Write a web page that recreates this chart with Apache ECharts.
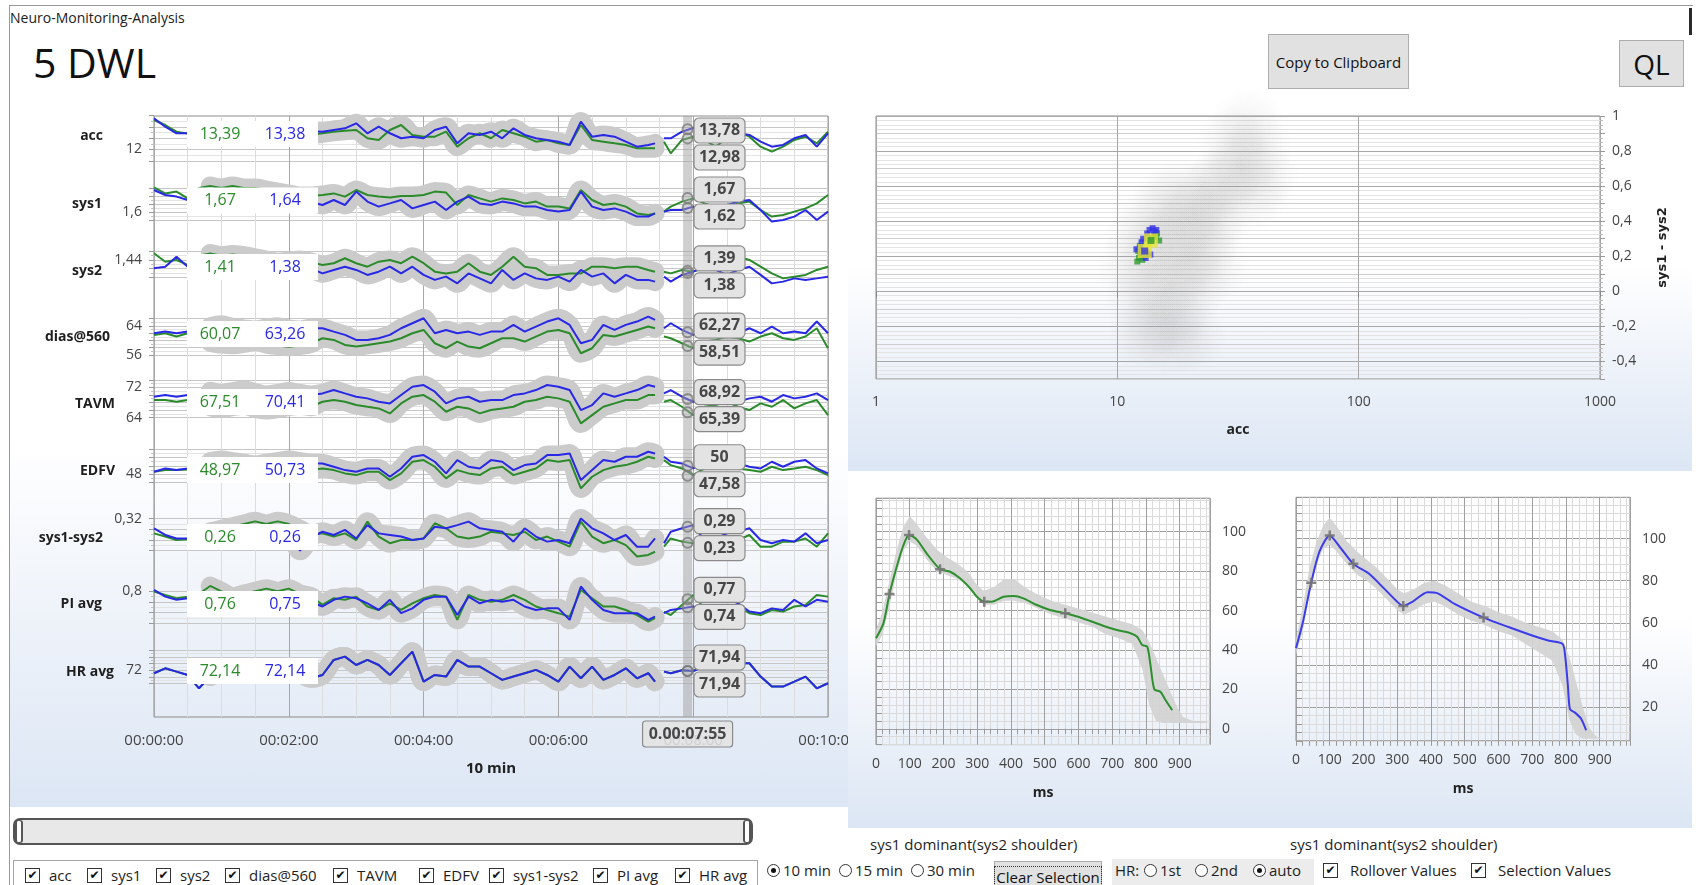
<!DOCTYPE html>
<html lang="de">
<head>
<meta charset="utf-8">
<title>Neuro-Monitoring-Analysis</title>
<script src="https://cdn.jsdelivr.net/npm/echarts@6.0.0/dist/echarts.min.js"></script>
<style>
  html, body { margin:0; padding:0; }
  body { width:1698px; height:885px; position:relative; overflow:hidden; background:#fff;
         font-family:"Open Sans","Noto Sans",sans-serif; color:#1e1e1e; }
  .abs { position:absolute; }
  .btn { position:absolute; background:#e1e1e1; border:1px solid #adadad; box-sizing:border-box;
         display:flex; align-items:center; justify-content:center; color:#111; white-space:nowrap; }
  .cb { position:absolute; width:15px; height:15px; border:1px solid #333; box-sizing:border-box; background:#fff;
        font:bold 12px "DejaVu Sans",sans-serif; line-height:13px; text-align:center; color:#111; }
  .rb { position:absolute; width:13px; height:13px; border:1px solid #333; border-radius:50%; box-sizing:border-box; background:#fff; }
  .rb.on::after { content:''; position:absolute; left:3px; top:3px; width:5px; height:5px; border-radius:50%; background:#111; }
  .lbl { position:absolute; font-size:15px; line-height:20px; white-space:nowrap; color:#1e1e1e; }
</style>
</head>
<body>
<!-- window frame and panels -->
<div class="abs" style="left:9px;top:5px;width:1683px;height:900px;border-left:1px solid #9a9a9a;border-top:1px solid #9a9a9a;"></div>
<div class="abs" style="left:1689px;top:8px;width:3px;height:27px;background:#2a2a2a;"></div>
<div class="abs" style="left:10px;top:103px;width:838px;height:704px;background:linear-gradient(to bottom,#fff 0%,#fff 48%,#dce6f4 100%);"></div>
<div class="abs" style="left:848px;top:103px;width:844px;height:368px;background:linear-gradient(to bottom,#fff 0%,#fff 44%,#dce6f4 100%);"></div>
<div class="abs" style="left:848px;top:473px;width:844px;height:355px;background:linear-gradient(to bottom,#fff 0%,#fff 40%,#dce6f4 100%);"></div>

<div class="abs" style="left:10px;top:8px;font-size:14px;line-height:20px;color:#222;">Neuro-Monitoring-Analysis</div>
<div class="abs" style="left:33px;top:42px;font-size:41px;line-height:41px;color:#111;">5 DWL</div>
<div class="btn" style="left:1268px;top:34px;width:141px;height:55px;font-size:15px;">Copy to Clipboard</div>
<div class="btn" style="left:1619px;top:40px;width:65px;height:47px;font-size:28px;">QL</div>

<div id="trend" class="abs" style="left:0;top:0;width:848px;height:812px;"></div>
<div id="side" class="abs" style="left:848px;top:0;width:850px;height:830px;"></div>

<!-- range slider -->
<div class="abs" style="left:13px;top:818px;width:740px;height:27px;box-sizing:border-box;border:2px solid #555;border-radius:7px;background:#e8e8e8;"></div>
<div class="abs" style="left:15px;top:820px;width:8px;height:23px;box-sizing:border-box;border:1px solid #555;border-radius:3px;background:#fff;border-left-width:2px;border-right-width:2px;"></div>
<div class="abs" style="left:743px;top:820px;width:8px;height:23px;box-sizing:border-box;border:1px solid #555;border-radius:3px;background:#fff;border-left-width:2px;border-right-width:2px;"></div>

<div class="abs" style="left:13px;top:860px;width:745px;height:40px;box-sizing:border-box;border:1px solid #a5a5a5;"></div>
<div class="btn" style="left:994px;top:861px;width:108px;height:34px;font-size:15px;align-items:flex-start;padding-top:4px;">
  <span style="border:1px dotted #333;padding:0 1px;line-height:20px;">Clear Selection</span></div>
<div class="abs" style="left:1112px;top:859px;width:202px;height:30px;background:#ececec;"></div>
<div class="lbl" style="left:870px;top:834px;">sys1 dominant(sys2 shoulder)</div>
<div class="lbl" style="left:1290px;top:834px;">sys1 dominant(sys2 shoulder)</div>
<div id="controls"></div>

<script>
// ---------- time series (trend) data, one sample every 10 s, gap at 450 s ----------
const TIMES = [0,10,20,30,40,50,60,70,80,90,100,110,120,130,140,150,160,170,180,190,200,210,220,230,240,250,260,270,280,290,300,310,320,330,340,350,360,370,380,390,400,410,420,430,440,446,450,454,460,470,480,490,500,510,520,530,540,550,560,570,580,590,600];
const SEL_START = 50, SEL_END = 446;
const CURSOR_T = 475;

const ROWS = ['acc','sys1','sys2','dias@560','TAVM','EDFV','sys1-sys2','PI avg','HR avg'];

const accGreen = [14.6,14.16,13.57,13.4,13.2,13.4,13.5,13.3,13.2,13.4,13.5,13.3,13.2,13.4,13.3,13.43,13.57,13.66,13.72,12.99,12.84,13.72,14.16,13.28,13.13,13.13,13.57,12.25,12.99,13.43,12.99,13.72,13.43,13.13,12.69,12.84,12.54,12.4,14.16,12.84,12.69,12.54,12.4,12.1,12.1,12.1,null,12.69,11.66,12.84,13.13,12.84,12.25,12.99,13.57,13.13,12.25,11.81,12.25,12.84,13.13,12.54,13.57];
const accBlue = [14.75,14.01,13.43,13.43,13.3,13.5,13.6,13.4,13.3,13.5,13.6,13.4,13.3,13.5,13.6,13.57,13.72,13.87,14.31,13.43,14.01,13.43,12.99,13.13,12.99,13.72,14.01,12.54,13.43,13.28,13.57,12.99,13.87,13.28,12.99,12.84,12.69,12.4,14.46,13.13,13.28,13.13,12.69,12.25,12.4,12.54,null,12.99,12.99,13.57,13.9,13.28,12.69,13.28,13.43,13.28,12.69,12.25,12.4,12.99,13.28,12.25,13.43];
const sys1Green = [1.723,1.693,1.702,1.668,1.72,1.73,1.72,1.73,1.72,1.72,1.71,1.70,1.69,1.68,1.68,1.685,1.693,1.677,1.71,1.685,1.677,1.673,1.68,1.68,1.685,1.702,1.697,1.635,1.685,1.668,1.652,1.668,1.66,1.643,1.652,1.627,1.627,1.618,1.71,1.66,1.635,1.643,1.627,1.593,1.585,1.593,null,1.602,1.627,1.652,1.668,1.643,1.627,1.627,1.643,1.652,1.61,1.577,1.585,1.602,1.618,1.643,1.685];
const sys1Blue = [1.71,1.685,1.677,1.66,1.66,1.67,1.68,1.67,1.66,1.67,1.68,1.66,1.65,1.66,1.65,1.635,1.66,1.635,1.702,1.652,1.627,1.643,1.66,1.618,1.635,1.652,1.61,1.652,1.677,1.643,1.635,1.652,1.643,1.627,1.627,1.61,1.602,1.61,1.702,1.627,1.61,1.618,1.602,1.577,1.577,1.593,null,1.602,1.61,1.61,1.627,1.61,1.61,1.635,1.652,1.66,1.61,1.552,1.56,1.577,1.61,1.56,1.602];
const sys2Green = [1.471,1.432,1.44,1.417,1.46,1.47,1.46,1.465,1.46,1.45,1.44,1.43,1.435,1.44,1.43,1.417,1.425,1.448,1.425,1.409,1.432,1.44,1.425,1.455,1.425,1.386,1.378,1.386,1.425,1.386,1.371,1.409,1.455,1.409,1.402,1.371,1.371,1.378,1.378,1.409,1.409,1.402,1.409,1.409,1.394,1.386,null,1.386,1.378,1.394,1.386,1.402,1.417,1.425,1.455,1.44,1.409,1.378,1.355,1.363,1.371,1.394,1.409];
const sys2Blue = [1.402,1.409,1.455,1.409,1.41,1.40,1.41,1.42,1.41,1.40,1.41,1.40,1.41,1.42,1.40,1.378,1.394,1.409,1.394,1.371,1.386,1.409,1.378,1.409,1.371,1.348,1.363,1.332,1.378,1.355,1.332,1.394,1.348,1.378,1.355,1.348,1.363,1.34,1.394,1.363,1.378,1.332,1.371,1.348,1.348,1.34,null,1.363,1.34,1.371,1.386,1.409,1.394,1.371,1.394,1.409,1.371,1.332,1.34,1.355,1.348,1.355,1.363];
const diasGreen = [61.54,61.99,61.08,61.99,60.2,59.5,59.0,58.8,59.2,59.7,59.0,58.6,58.3,58.6,59.2,60.62,60.16,58.78,58.33,58.78,59.24,59.7,60.62,61.99,62.91,59.24,57.87,59.7,58.33,57.87,59.24,60.62,60.62,59.7,61.08,62.45,62.91,61.99,56.49,57.87,61.54,61.08,61.99,62.91,63.83,63.37,null,61.08,60.62,59.24,57.87,59.7,60.16,61.08,60.62,59.7,61.08,61.99,60.62,60.16,61.08,63.37,57.87];
const diasBlue = [62.0,62.45,62.0,62.45,63.4,63.8,64.3,63.6,63.2,62.9,63.4,63.8,63.2,62.9,63.4,63.37,62.45,61.54,60.16,60.16,60.62,61.54,63.37,64.75,66.12,61.99,62.91,61.99,62.45,61.54,62.45,62.45,64.29,62.45,63.83,65.21,66.12,64.29,59.24,60.16,64.29,62.91,64.29,65.21,66.58,65.66,null,63.37,64.75,62.91,61.54,62.91,61.08,62.45,61.99,63.37,61.99,63.83,61.99,62.45,61.99,65.21,61.99];
const tavmGreen = [68.65,68.65,68.21,68.65,67.3,66.9,66.4,66.9,67.3,66.4,66.0,66.4,66.9,67.3,66.9,68.21,68.65,68.21,67.33,66.88,66.44,65.11,67.77,69.54,69.98,68.21,65.56,66.88,66.44,65.11,66.0,66.44,66.88,68.21,68.65,69.54,69.1,68.21,62.46,64.67,66.88,67.77,68.65,68.65,69.98,69.98,null,68.21,68.65,66.88,64.67,66.88,67.33,68.21,66.88,66.0,67.77,66.88,68.65,66.44,67.77,68.65,64.67];
const tavmBlue = [69.54,69.98,69.54,69.98,71.3,71.0,70.4,70.9,71.3,70.6,70.0,70.4,70.9,70.4,70.0,70.42,71.31,70.42,69.54,69.1,68.21,67.77,69.98,72.19,72.64,70.87,67.77,69.1,69.54,68.21,68.65,68.65,69.98,70.42,71.31,72.64,72.19,71.31,66.0,67.33,70.42,69.54,70.42,71.31,72.64,72.19,null,70.42,71.31,69.54,68.21,69.54,69.1,69.98,68.21,69.1,69.54,68.21,69.98,69.1,69.54,70.42,68.65];
const edfvGreen = [48.55,48.95,48.95,49.11,49.8,49.4,49.0,49.4,49.8,49.4,49.0,48.6,49.0,49.4,49.0,49.35,48.95,48.15,47.74,48.55,48.55,46.53,48.15,50.97,51.37,49.76,46.94,48.95,48.15,47.74,49.35,49.76,47.74,48.55,49.35,51.37,50.97,51.37,44.52,47.34,48.95,49.76,50.16,50.97,52.18,51.77,null,51.37,50.16,49.35,47.74,49.35,49.76,50.16,49.35,48.95,48.55,49.76,48.95,49.35,49.76,48.95,47.74];
const edfvBlue = [48.55,49.35,48.95,49.35,50.6,51.0,51.4,51.0,50.6,50.2,50.6,51.0,51.4,51.0,50.6,50.56,49.76,48.95,48.55,49.35,49.35,47.34,49.35,52.18,52.58,50.97,48.15,51.37,49.76,49.35,51.37,50.97,48.95,50.16,50.56,52.58,52.58,52.98,46.53,48.95,51.37,50.97,52.18,52.18,53.39,52.98,null,52.18,50.97,50.56,49.35,50.56,50.16,51.77,50.56,49.76,49.35,50.97,49.76,50.97,51.37,49.35,48.15];
const s12Green = [0.265,0.253,0.24,0.243,0.26,0.27,0.28,0.29,0.3,0.31,0.3,0.31,0.3,0.28,0.26,0.265,0.253,0.265,0.24,0.309,0.253,0.228,0.24,0.24,0.246,0.303,0.284,0.253,0.246,0.253,0.271,0.265,0.259,0.271,0.24,0.253,0.234,0.215,0.309,0.253,0.228,0.24,0.221,0.178,0.184,0.196,null,0.215,0.246,0.234,0.228,0.228,0.234,0.246,0.24,0.259,0.215,0.215,0.234,0.234,0.246,0.215,0.265];
const s12Blue = [0.284,0.259,0.246,0.246,0.26,0.27,0.26,0.25,0.26,0.27,0.28,0.27,0.26,0.2,0.25,0.271,0.259,0.278,0.246,0.296,0.265,0.259,0.253,0.24,0.246,0.29,0.284,0.296,0.309,0.284,0.278,0.271,0.234,0.284,0.253,0.234,0.24,0.228,0.321,0.284,0.265,0.24,0.259,0.215,0.215,0.246,null,0.228,0.271,0.284,0.296,0.24,0.246,0.265,0.271,0.284,0.24,0.228,0.24,0.234,0.265,0.228,0.24];
const piGreen = [0.799,0.786,0.774,0.78,0.79,0.82,0.8,0.78,0.79,0.8,0.81,0.8,0.81,0.79,0.78,0.749,0.774,0.768,0.78,0.743,0.73,0.755,0.73,0.755,0.774,0.786,0.78,0.693,0.786,0.768,0.761,0.768,0.786,0.768,0.743,0.73,0.718,0.705,0.805,0.774,0.743,0.743,0.73,0.711,0.686,0.699,null,0.724,0.711,0.749,0.786,0.736,0.73,0.724,0.743,0.718,0.711,0.73,0.724,0.743,0.749,0.786,0.78];
const piBlue = [0.805,0.78,0.768,0.774,0.77,0.79,0.78,0.76,0.77,0.78,0.77,0.79,0.78,0.77,0.76,0.743,0.768,0.78,0.774,0.755,0.73,0.768,0.718,0.736,0.768,0.78,0.78,0.711,0.78,0.755,0.768,0.761,0.768,0.743,0.73,0.736,0.736,0.693,0.818,0.768,0.73,0.718,0.718,0.718,0.693,0.705,null,0.718,0.73,0.736,0.743,0.73,0.743,0.73,0.755,0.724,0.718,0.736,0.73,0.768,0.743,0.768,0.761];
const hrGreen = [71.77,72.14,71.89,71.64,70.64,71.52,71.89,72.02,71.77,72.14,72.02,71.89,72.27,71.77,71.39,71.64,72.77,73.02,72.39,72.77,72.39,71.64,72.52,73.39,71.14,71.64,71.52,72.77,72.27,72.27,71.77,71.27,71.52,71.77,72.02,71.64,71.14,72.27,71.39,72.27,71.27,71.64,72.14,71.39,71.77,71.14,null,71.89,71.77,72.0,71.94,72.27,72.52,73.02,72.52,72.52,71.52,70.77,70.77,71.14,71.52,70.64,71.02];
const hrBlue = [71.77,72.14,71.89,71.64,70.64,71.52,71.89,72.02,71.77,72.14,72.02,71.89,72.27,71.77,71.39,71.64,72.77,73.02,72.39,72.77,72.39,71.64,72.52,73.39,71.14,71.64,71.52,72.77,72.27,72.27,71.77,71.27,71.52,71.77,72.02,71.64,71.14,72.27,71.39,72.27,71.27,71.64,72.14,71.39,71.77,71.14,null,71.89,71.77,72.0,71.94,72.27,72.52,73.02,72.52,72.52,71.52,70.77,70.77,71.14,71.52,70.64,71.02];

const GREEN = [accGreen, sys1Green, sys2Green, diasGreen, tavmGreen, edfvGreen, s12Green, piGreen, hrGreen];
const BLUE  = [accBlue, sys1Blue, sys2Blue, diasBlue, tavmBlue, edfvBlue, s12Blue, piBlue, hrBlue];

// per-row axis ranges and labelled ticks
const ROW_MIN  = [11, 1.56, 1.36, 56, 64, 46, 0.2, 0.68, 71];
const ROW_MAX  = [15, 1.72, 1.48, 66, 74, 54, 0.32, 0.8, 73.5];
const ROW_STEP = [1, 0.04, 0.04, 2, 2, 2, 0.04, 0.04, 0.5];
const ROW_TICKS = [[12],[1.6],[1.44],[64,56],[72,64],[48],[0.32],[0.8],[72]];

// selection means shown in the white boxes
const BOX_GREEN = [13.39, 1.67, 1.41, 60.07, 67.51, 48.97, 0.26, 0.76, 72.14];
const BOX_BLUE  = [13.38, 1.64, 1.38, 63.26, 70.41, 50.73, 0.26, 0.75, 72.14];
// rollover values at the cursor
const CALL_HIGH = [13.78, 1.67, 1.39, 62.27, 68.92, 50, 0.29, 0.77, 71.94];
const CALL_LOW  = [12.98, 1.62, 1.38, 58.51, 65.39, 47.58, 0.23, 0.74, 71.94];

// ---------- scatter: sys1-sys2 over acc ----------
const CLOUD_ACC = [11.5,12.5,12.5,13.5,14,14,15,15.5,16,16.5,17,17.5,18,18.5,19,19.5,20,21,21,22,23,24,25,26,27,17,13,28,30,33,35,38,40,36];
const CLOUD_S12 = [0.15,0.3,-0.05,0.1,0.4,-0.2,0.25,0.0,0.5,-0.15,0.3,0.1,0.55,-0.1,0.35,0.15,-0.25,0.45,0.05,0.25,0.55,0.35,0.15,0.45,0.6,-0.28,-0.25,0.65,0.85,0.72,0.95,0.8,0.65,0.55];
const SEL_GREEN_ACC = [12.1,12.3,12.5,12.2,12.7,12.9,13.9,14.2,14.4,14.6,13.2,12.4,14.9];
const SEL_GREEN_S12 = [0.17,0.19,0.21,0.23,0.18,0.2,0.3,0.32,0.31,0.33,0.22,0.26,0.29];
const SEL_BLUE_ACC = [12.4,12.6,12.8,13.3,13.6,14.0,14.3,12.5,13.1,13.7,12.0,14.5];
const SEL_BLUE_S12 = [0.25,0.28,0.3,0.33,0.35,0.36,0.34,0.22,0.19,0.21,0.24,0.35];

// ---------- averaged pulse waveforms ----------
const G_WAVE_MS  = [0,22,40,61,81,98,121,150,190,220,249,279,299,321,343,378,408,437,477,516,561,596,635,675,714,754,774,789,804,813,825,843,858,878];
const G_WAVE_VAL = [46,53.5,68.4,82,93,98.3,96,89,81,79.7,76.4,71.3,67,64.5,64.5,67,67.4,66.2,62.8,60.3,58.6,57,54.7,52.2,50.1,48.5,46.7,42.5,41.7,33,20,18.8,14.6,9.5];
const G_MARK_MS  = [40,98,190,321,561];
const G_MARK_VAL = [68.4,98.3,81,64.5,58.6];
const B_WAVE_MS  = [0,20,45,70,100,130,170,215,263,300,318,345,390,420,470,556,630,700,750,790,798,806,812,826,845,860];
const B_WAVE_VAL = [48,60,79,94,101.5,96,88,83.5,76,70,68,70,74.5,74,69,62.5,58,54,51.5,50,44,30,19,17.5,14.5,9];
const B_MARK_MS  = [45,100,170,318,556];
const B_MARK_VAL = [79,101.5,88,68,62.5];
// envelope of all single beats
const BAND_MS  = [0,20,40,60,80,100,120,150,180,210,240,270,300,320,350,380,410,440,480,520,560,600,640,680,720,760,790,810,830,850,870,890,910,940,980];
const G_BAND_HI = [50,60,75,90,102,108,104,97,91,87,84,80,73,70,72,76,76,72,68,65,63,61,59,57,55,53,50,44,36,28,20,12,6,4,4];
const G_BAND_LO = [42,48,62,78,90,95,93,86,80,78,76,73,66,63,63,65,65,64,61,58,56,54,52,48,46,43,30,12,4,3,3,3,3,3,3];
const B_BAND_HI = [52,68,86,98,106,110,106,99,94,90,86,81,76,74,76,79,80,78,74,70,68,65,63,60,58,56,52,44,32,20,10,6,5,5,5];
const B_BAND_LO = [45,56,74,87,95,97,94,88,83,80,76,71,66,64,66,69,70,68,64,61,59,56,54,50,46,42,30,14,7,5,5,5,5,5,5];

// ---------- helpers ----------
const FONT = '"Open Sans","Noto Sans",sans-serif';
const COL_G = '#2b8b2b', COL_B = '#2828e6';
const near = (a, b) => Math.abs(a - b) < 1e-6;
const fmtDec = v => String(+(+v).toFixed(6)).replace('.', ',');
const fmt2 = v => v.toFixed(2).replace('.', ',');
const pad = n => String(n).padStart(2, '0');
const hms = s => pad(Math.floor(s / 3600)) + ':' + pad(Math.floor(s % 3600 / 60)) + ':' + pad(Math.round(s % 60));
const asLine = arr => TIMES.map((t, k) => [t, arr[k]]);
const asHalo = arr => TIMES.map((t, k) => [t, (t >= SEL_START && t <= SEL_END) ? arr[k] : null]);
const zip = (a, b) => a.map((v, k) => [v, b[k]]);

// ---------- trend chart ----------
const ROW_TOP = [115.5, 188, 251.3, 318.7, 379.9, 449.2, 518.7, 591.3, 650.2];
const ROW_H   = [45.3, 32, 26, 36.3, 37.7, 33.1, 32, 32, 33.3];
const NAME_X  = [103, 102, 102, 110, 115, 115, 103, 102, 114];
const NAME_Y  = [136, 204, 271, 337, 404, 471, 538, 604, 672];
const BOX_Y   = [134, 200.5, 267, 334, 402, 470, 537, 604, 671];

const trend = echarts.init(document.getElementById('trend'), null, {renderer: 'canvas'});
const tGrid = [{left: 154, top: 116, width: 674, height: 601, show: true, borderColor: '#8c8c8c', borderWidth: 1,
  containLabel: false, outerBoundsMode: 'none'}];
const tX = [{gridIndex: 0, type: 'value', min: 0, max: 600, interval: 30,
  axisLine: {show: false}, axisTick: {show: false},
  axisLabel: {margin: 16, fontSize: 15, color: '#444', fontFamily: FONT, formatter: v => (v % 120 === 0 ? hms(v) : '')},
  splitLine: {show: true, lineStyle: {color: ['#a8a8a8', '#dcdcdc', '#dcdcdc', '#dcdcdc']}},
  name: '10 min', nameLocation: 'middle', nameGap: 44,
  nameTextStyle: {fontWeight: 'bold', fontSize: 15, color: '#222', fontFamily: FONT}}];
const tY = [{gridIndex: 0, type: 'value', min: 0, max: 1, show: false}];
const tSeries = [{type: 'line', xAxisIndex: 0, yAxisIndex: 0, data: [[CURSOR_T, 0], [CURSOR_T, 1]], symbol: 'none', silent: true, z: 6,
  lineStyle: {width: 9, color: 'rgba(160,160,160,0.5)'}}];

ROWS.forEach((name, i) => {
  const gi = i + 1;
  tGrid.push({left: 154, width: 674, top: ROW_TOP[i], height: ROW_H[i], containLabel: false, outerBoundsMode: 'none'});
  tX.push({gridIndex: gi, type: 'value', min: 0, max: 600, show: false});
  tY.push({gridIndex: gi, type: 'value', min: ROW_MIN[i], max: ROW_MAX[i], interval: ROW_STEP[i],
    axisLine: {show: false},
    axisTick: {show: true, length: 5, lineStyle: {color: '#9a9a9a'}},
    minorTick: {show: true, splitNumber: 2, length: 3, lineStyle: {color: '#c0c0c0'}},
    axisLabel: {margin: 12, fontSize: 14, color: '#454545', fontFamily: FONT,
      formatter: v => (ROW_TICKS[i].some(t => near(t, v)) ? fmtDec(v) : '')},
    splitLine: {show: true, lineStyle: {color: '#c6c6c6'}},
    minorSplitLine: {show: true, lineStyle: {color: '#e4e4e4'}}});
  const base = {type: 'line', xAxisIndex: gi, yAxisIndex: gi, symbol: 'none', silent: true, clip: false, connectNulls: false};
  const halo = {width: 19, color: '#cbcbcb', cap: 'round', join: 'round'};
  tSeries.push(Object.assign({}, base, {z: 1, smooth: 0.3, data: asHalo(GREEN[i]), lineStyle: halo}));
  tSeries.push(Object.assign({}, base, {z: 1, smooth: 0.3, data: asHalo(BLUE[i]), lineStyle: halo}));
  tSeries.push(Object.assign({}, base, {z: 3, data: asLine(GREEN[i]), lineStyle: {width: 2, color: COL_G}}));
  tSeries.push(Object.assign({}, base, {z: 4, data: asLine(BLUE[i]), lineStyle: {width: 2, color: COL_B}}));
  tSeries.push({type: 'scatter', xAxisIndex: gi, yAxisIndex: gi, z: 7, silent: true, symbol: 'circle', symbolSize: 10,
    data: [[CURSOR_T, CALL_HIGH[i]], [CURSOR_T, CALL_LOW[i]]],
    itemStyle: {color: 'rgba(0,0,0,0)', borderColor: '#7c7c7c', borderWidth: 2}});
});

trend.setOption({animation: false, textStyle: {fontFamily: FONT}, grid: tGrid, xAxis: tX, yAxis: tY, series: tSeries});

// overlays: row names, selection-mean boxes, rollover callouts, cursor time
const gfx = [];
ROWS.forEach((name, i) => {
  gfx.push({type: 'text', x: NAME_X[i], y: NAME_Y[i], z: 60, silent: true,
    style: {text: name, fill: '#1e1e1e', font: 'bold 14px ' + FONT, textAlign: 'right', textVerticalAlign: 'middle'}});
  const cy = BOX_Y[i];
  gfx.push({type: 'rect', z: 60, silent: true, shape: {x: 187, y: cy - 13, width: 131, height: 26}, style: {fill: '#ffffff'}});
  gfx.push({type: 'text', x: 220, y: cy, z: 61, silent: true,
    style: {text: fmt2(BOX_GREEN[i]), fill: COL_G, font: '16px ' + FONT, textAlign: 'center', textVerticalAlign: 'middle'}});
  gfx.push({type: 'text', x: 285, y: cy, z: 61, silent: true,
    style: {text: fmt2(BOX_BLUE[i]), fill: COL_B, font: '16px ' + FONT, textAlign: 'center', textVerticalAlign: 'middle'}});
  const yH = trend.convertToPixel({gridIndex: i + 1}, [CURSOR_T, CALL_HIGH[i]])[1];
  const yL = trend.convertToPixel({gridIndex: i + 1}, [CURSOR_T, CALL_LOW[i]])[1];
  let up = (yH + yL) / 2 - 13.5;
  if (up < 130.5) up = 130.5;
  [[up, CALL_HIGH[i]], [up + 27, CALL_LOW[i]]].forEach(([cyy, v]) => {
    gfx.push({type: 'rect', z: 62, silent: true, shape: {x: 694, y: cyy - 12.5, width: 51, height: 25, r: 5},
      style: {fill: '#e3e3e3', stroke: '#8a8a8a', lineWidth: 1.2}});
    gfx.push({type: 'text', x: 719.5, y: cyy, z: 63, silent: true,
      style: {text: fmtDec(v), fill: '#474747', font: 'bold 16px ' + FONT, textAlign: 'center', textVerticalAlign: 'middle'}});
  });
});
const cx = trend.convertToPixel({gridIndex: 0}, [CURSOR_T, 0])[0];
gfx.push({type: 'rect', z: 62, silent: true, shape: {x: cx - 45, y: 721, width: 90, height: 26, r: 3},
  style: {fill: 'rgba(226,226,226,0.88)', stroke: '#8a8a8a', lineWidth: 1.2}});
gfx.push({type: 'text', x: cx, y: 734, z: 63, silent: true,
  style: {text: '0.' + hms(CURSOR_T), fill: '#474747', font: 'bold 16px ' + FONT, textAlign: 'center', textVerticalAlign: 'middle'}});
trend.setOption({graphic: gfx});

// ---------- right side: scatter + waveforms ----------
const side = echarts.init(document.getElementById('side'), null, {renderer: 'canvas'});
const labelStyle = {fontSize: 14, color: '#444', fontFamily: FONT};
const waveX = gi => ({gridIndex: gi, type: 'value', min: 0, max: 990, interval: 20,
  axisLine: {show: false}, axisTick: {show: true, length: 5, lineStyle: {color: '#999'}},
  axisLabel: Object.assign({margin: 12, formatter: v => (v % 100 === 0 ? String(v) : '')}, labelStyle),
  splitLine: {show: true, lineStyle: {color: ['#a0a0a0', '#dadada', '#dadada', '#dadada', '#dadada']}},
  name: 'ms', nameLocation: 'middle', nameGap: 41,
  nameTextStyle: {fontWeight: 'bold', fontSize: 14, color: '#222', fontFamily: FONT}});
const waveY = (gi, min, max, colors) => ({gridIndex: gi, type: 'value', position: 'right', min: min, max: max, interval: 4,
  axisLine: {show: false}, axisTick: {show: true, length: 6, lineStyle: {color: '#999'}},
  axisLabel: Object.assign({margin: 12, formatter: v => (near(v % 20, 0) && Number.isInteger(v) ? String(v) : '')}, labelStyle),
  splitLine: {show: true, lineStyle: {color: colors}}});
const band = (gi, hi, lo) => ({type: 'custom', xAxisIndex: gi, yAxisIndex: gi, z: 1, silent: true, data: [[0, 0]],
  renderItem: (params, api) => {
    const pts = [];
    for (let k = 0; k < BAND_MS.length; k++) pts.push(api.coord([BAND_MS[k], hi[k]]));
    for (let k = BAND_MS.length - 1; k >= 0; k--) pts.push(api.coord([BAND_MS[k], lo[k]]));
    return {type: 'polygon', shape: {points: pts}, style: {fill: '#d2d2d2', opacity: 0.92}};
  }});
const PLUS = 'path://M3,0H5V3H8V5H5V8H3V5H0V3H3Z';
const sq = (data, size, color, z) => ({type: 'scatter', xAxisIndex: 0, yAxisIndex: 0, symbol: 'rect', symbolSize: size, z: z,
  silent: true, data: data, itemStyle: {color: color}});
const softBlob = {type: 'radial', x: 0.5, y: 0.5, r: 0.5,
  colorStops: [{offset: 0, color: 'rgba(150,150,150,0.13)'}, {offset: 0.55, color: 'rgba(150,150,150,0.07)'}, {offset: 1, color: 'rgba(150,150,150,0)'}]};
const gridBase = {show: true, borderColor: '#8a8a8a', containLabel: false, outerBoundsMode: 'none'};

side.setOption({
  animation: false,
  textStyle: {fontFamily: FONT},
  grid: [
    Object.assign({left: 28, top: 116, width: 724, height: 263}, gridBase),
    Object.assign({left: 28, top: 498.2, width: 334, height: 246.4}, gridBase),
    Object.assign({left: 448, top: 497.3, width: 334, height: 243.5}, gridBase)
  ],
  xAxis: [
    {gridIndex: 0, type: 'log', logBase: 10, min: 1, max: 1000,
      axisLine: {show: false}, axisTick: {show: true, length: 6, lineStyle: {color: '#888'}},
      axisLabel: Object.assign({margin: 16, formatter: v => String(Math.round(v))}, labelStyle),
      splitLine: {show: true, lineStyle: {color: '#a6a6a6'}},
      name: 'acc', nameLocation: 'middle', nameGap: 44,
      nameTextStyle: {fontWeight: 'bold', fontSize: 14, color: '#222', fontFamily: FONT}},
    waveX(1), waveX(2)
  ],
  yAxis: [
    {gridIndex: 0, type: 'value', position: 'right', min: -0.5, max: 1, interval: 0.1,
      axisLine: {show: false}, axisTick: {show: true, length: 5, lineStyle: {color: '#999'}},
      minorTick: {show: true, splitNumber: 4, length: 3, lineStyle: {color: '#bbb'}},
      axisLabel: Object.assign({margin: 12, formatter: v => {
        const r = Math.round(v * 10) / 10;
        return near(Math.round(r * 5), r * 5) ? fmtDec(r) : '';
      }}, labelStyle),
      splitLine: {show: true, lineStyle: {color: ['#cdcdcd', '#a8a8a8']}},
      minorSplitLine: {show: true, lineStyle: {color: '#e3e3e3'}},
      name: 'sys1 - sys2', nameLocation: 'middle', nameRotate: 90, nameGap: 56,
      nameTextStyle: {fontWeight: 'bold', fontSize: 13, color: '#222', fontFamily: '"DejaVu Sans",sans-serif'}},
    waveY(1, -8, 117, ['#dadada', '#dadada', '#a0a0a0', '#dadada', '#dadada']),
    waveY(2, 4, 119.6, ['#dadada', '#dadada', '#dadada', '#dadada', '#a0a0a0'])
  ],
  series: [
    {type: 'scatter', xAxisIndex: 0, yAxisIndex: 0, z: 1, silent: true, symbol: 'circle', symbolSize: 74,
      data: zip(CLOUD_ACC, CLOUD_S12), itemStyle: {color: softBlob}},
    sq(zip(SEL_GREEN_ACC, SEL_GREEN_S12), 6, '#2f9a2f', 3),
    sq(zip(SEL_BLUE_ACC, SEL_BLUE_S12), 6, '#3434e6', 4),
    sq([[CALL_HIGH[0], CALL_HIGH[6]], [CALL_LOW[0], CALL_LOW[6]]], 14, '#e6e634', 5),
    sq([[CALL_HIGH[0], CALL_HIGH[6]]], 7, '#2f9a2f', 6),
    sq([[CALL_LOW[0], CALL_LOW[6]]], 7, '#3434e6', 6),

    band(1, G_BAND_HI, G_BAND_LO),
    {type: 'line', xAxisIndex: 1, yAxisIndex: 1, z: 3, silent: true, symbol: 'none', smooth: 0.25,
      data: zip(G_WAVE_MS, G_WAVE_VAL), lineStyle: {width: 2, color: '#2e8f2e'}},
    {type: 'scatter', xAxisIndex: 1, yAxisIndex: 1, z: 4, silent: true, symbol: PLUS, symbolSize: 10,
      data: zip(G_MARK_MS, G_MARK_VAL), itemStyle: {color: '#777', opacity: 0.9}},

    band(2, B_BAND_HI, B_BAND_LO),
    {type: 'line', xAxisIndex: 2, yAxisIndex: 2, z: 3, silent: true, symbol: 'none', smooth: 0.25,
      data: zip(B_WAVE_MS, B_WAVE_VAL), lineStyle: {width: 2, color: '#3b3bea'}},
    {type: 'scatter', xAxisIndex: 2, yAxisIndex: 2, z: 4, silent: true, symbol: PLUS, symbolSize: 10,
      data: zip(B_MARK_MS, B_MARK_VAL), itemStyle: {color: '#777', opacity: 0.9}}
  ]
});

// ---------- bottom control strip ----------
const CHECKS = [['acc', 25], ['sys1', 87], ['sys2', 156], ['dias@560', 225], ['TAVM', 333], ['EDFV', 419], ['sys1-sys2', 489], ['PI avg', 593], ['HR avg', 675]];
const RADIOS = [['10 min', 767, true], ['15 min', 839, false], ['30 min', 911, false], ['1st', 1144, false], ['2nd', 1195, false], ['auto', 1253, true]];
const TOGGLES = [['Rollover Values', 1323], ['Selection Values', 1471]];
let html = '';
CHECKS.forEach(([t, x]) => {
  html += `<div class="cb" style="left:${x}px;top:868px;">&#10004;</div><div class="lbl" style="left:${x + 24}px;top:865px;">${t}</div>`;
});
RADIOS.forEach(([t, x, on]) => {
  html += `<div class="rb${on ? ' on' : ''}" style="left:${x}px;top:864px;"></div><div class="lbl" style="left:${x + 16}px;top:860px;">${t}</div>`;
});
html += '<div class="lbl" style="left:1115px;top:860px;">HR:</div>';
TOGGLES.forEach(([t, x]) => {
  html += `<div class="cb" style="left:${x}px;top:863px;">&#10004;</div><div class="lbl" style="left:${x + 27}px;top:860px;">${t}</div>`;
});
document.getElementById('controls').innerHTML = html;
</script>
</body>
</html>
